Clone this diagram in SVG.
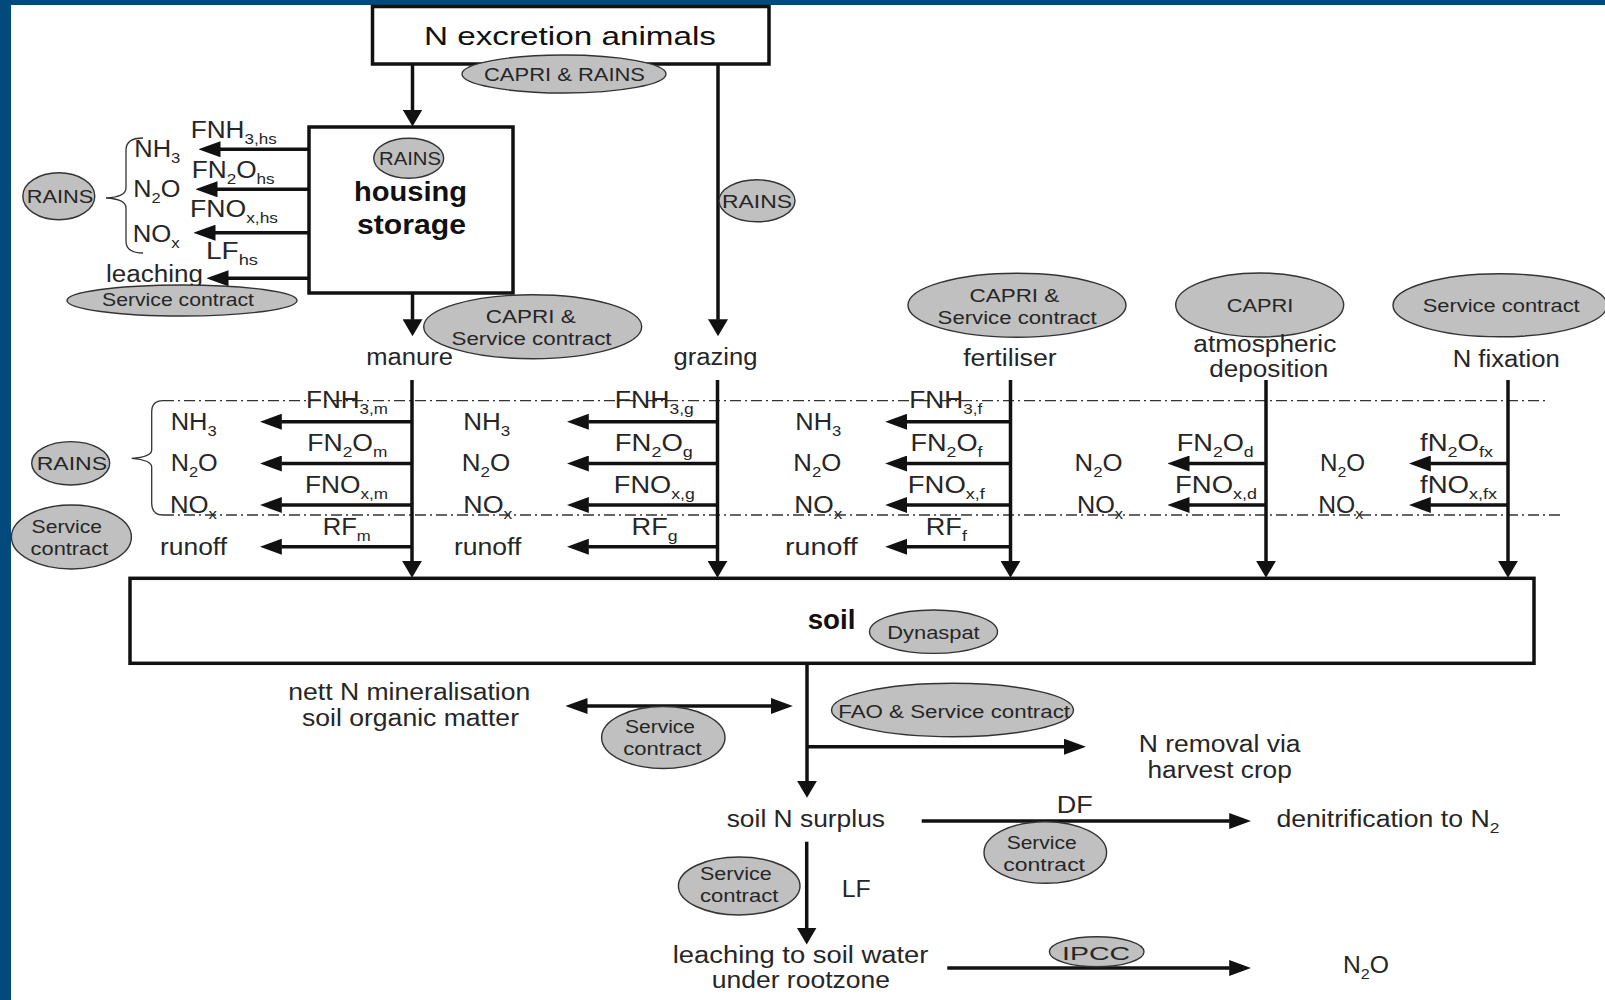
<svg xmlns="http://www.w3.org/2000/svg" width="1605" height="1000" viewBox="0 0 1605 1000">
<style>
text{font-family:"Liberation Sans",Arial,sans-serif;fill:#262626;font-size:23px}
.e{font-size:17.5px}
.big{font-size:26.5px;fill:#111}
.b{font-size:27px;font-weight:bold;fill:#111}
.s{font-size:15px}
.box{fill:#fff;stroke:#111;stroke-width:3.5}
.el{fill:#c0c0c0;stroke:#333;stroke-width:1.4}
.ln{stroke:#111;stroke-width:3.5;fill:none}
.h{marker-end:url(#ah)}
.v{marker-end:url(#av)}
.dd{stroke:#333;stroke-width:1.3;stroke-dasharray:11 4 2 4;fill:none}
.br{stroke:#333;stroke-width:1.3;fill:none}
</style>
<defs>
<marker id="ah" markerUnits="userSpaceOnUse" markerWidth="22" markerHeight="16" refX="0.5" refY="8" orient="auto-start-reverse"><path d="M0,0L22,8L0,16z" fill="#111"/></marker>
<marker id="av" markerUnits="userSpaceOnUse" markerWidth="17" markerHeight="20" refX="0.5" refY="10" orient="auto"><path d="M0,0L17,10L0,20z" fill="#111"/></marker>
</defs>
<rect x="0" y="0" width="1605" height="1000" fill="#fff"/>
<rect x="0" y="0" width="1605" height="5" fill="#034a7c"/>
<rect x="0" y="0" width="11" height="1000" fill="#034a7c"/>

<g id="connectors">
<line class="ln v" x1="412.5" y1="64" x2="412.5" y2="110"/>
<line class="ln v" x1="412.5" y1="293" x2="412.5" y2="319.7"/>
<line class="ln v" x1="718" y1="64" x2="718" y2="319.7"/>
<line class="ln h" x1="309" y1="149.3" x2="220" y2="149.3"/>
<line class="ln h" x1="309" y1="189.3" x2="217" y2="189.3"/>
<line class="ln h" x1="309" y1="232.7" x2="215" y2="232.7"/>
<line class="ln h" x1="309" y1="278.3" x2="228" y2="278.3"/>
<path class="br" d="M143,138 Q126,138 126,150 L126,188 Q126,197 106,198 Q126,199 126,208 L126,241 Q126,253 143,253"/>
<line class="dd" x1="163" y1="400.7" x2="1548" y2="400.7"/>
<line class="dd" x1="163" y1="515" x2="1560" y2="515"/>
<path class="br" d="M163,400.7 Q151.7,400.7 151.7,412 L151.7,450 Q151.7,457 131.7,458.3 Q151.7,460 151.7,467 L151.7,503 Q151.7,515 163,515"/>
<line class="ln v" x1="412" y1="380" x2="412" y2="561.3"/>
<line class="ln v" x1="717.5" y1="380" x2="717.5" y2="561.3"/>
<line class="ln v" x1="1010.5" y1="380" x2="1010.5" y2="561.3"/>
<line class="ln v" x1="1266" y1="380" x2="1266" y2="561.3"/>
<line class="ln v" x1="1508" y1="380" x2="1508" y2="561.3"/>
<line class="ln h" x1="412" y1="421.7" x2="281.3" y2="421.7"/>
<line class="ln h" x1="412" y1="463.5" x2="281.3" y2="463.5"/>
<line class="ln h" x1="412" y1="505" x2="281.3" y2="505"/>
<line class="ln h" x1="412" y1="546.7" x2="281.3" y2="546.7"/>
<line class="ln h" x1="717.5" y1="421.7" x2="588.3" y2="421.7"/>
<line class="ln h" x1="717.5" y1="463.5" x2="588.3" y2="463.5"/>
<line class="ln h" x1="717.5" y1="505" x2="588.3" y2="505"/>
<line class="ln h" x1="717.5" y1="546.7" x2="588.3" y2="546.7"/>
<line class="ln h" x1="1010.5" y1="421.7" x2="906.7" y2="421.7"/>
<line class="ln h" x1="1010.5" y1="463.5" x2="906.7" y2="463.5"/>
<line class="ln h" x1="1010.5" y1="505" x2="906.7" y2="505"/>
<line class="ln h" x1="1010.5" y1="546.7" x2="906.7" y2="546.7"/>
<line class="ln h" x1="1266" y1="463.5" x2="1189" y2="463.5"/>
<line class="ln h" x1="1266" y1="505" x2="1189" y2="505"/>
<line class="ln h" x1="1508" y1="463.5" x2="1430.3" y2="463.5"/>
<line class="ln h" x1="1508" y1="505" x2="1430.3" y2="505"/>
<line class="ln v" x1="807" y1="663" x2="807" y2="781.3"/>
<line class="ln h" x1="587" y1="706" x2="771.3" y2="706" style="marker-start:url(#ah)"/>
<line class="ln h" x1="807" y1="746.7" x2="1064.5" y2="746.7"/>
<line class="ln h" x1="921.7" y1="821" x2="1229.7" y2="821"/>
<line class="ln v" x1="806.7" y1="841.7" x2="806.7" y2="928"/>
<line class="ln h" x1="947.3" y1="968" x2="1229.7" y2="968"/>
</g>

<g id="n-excretion-animals">
<rect class="box" x="372.5" y="6.5" width="396.5" height="57.5"/>
<text class="big" x="424" y="45" textLength="292" lengthAdjust="spacingAndGlyphs">N excretion animals</text>
</g>
<g id="src-capri-rains">
<ellipse class="el" cx="564" cy="74" rx="102" ry="19"/>
<text class="e" x="484" y="81" textLength="161" lengthAdjust="spacingAndGlyphs">CAPRI &amp; RAINS</text>
</g>

<g id="housing-storage">
<rect class="box" x="309" y="127" width="204" height="166"/>
<ellipse class="el" cx="408.7" cy="158.3" rx="35" ry="20"/>
<text class="e" x="379" y="165" textLength="62" lengthAdjust="spacingAndGlyphs">RAINS</text>
<text class="b" x="354" y="200.7" textLength="113" lengthAdjust="spacingAndGlyphs">housing</text>
<text class="b" x="357" y="234" textLength="109" lengthAdjust="spacingAndGlyphs">storage</text>
</g>

<g id="housing-emissions">
<text x="190.7" y="138.3" textLength="86" lengthAdjust="spacingAndGlyphs">FNH<tspan class="s" dy="6">3,hs</tspan></text>
<text x="191.7" y="178.3" textLength="83" lengthAdjust="spacingAndGlyphs">FN<tspan class="s" dy="6">2</tspan><tspan dy="-6">O</tspan><tspan class="s" dy="6">hs</tspan></text>
<text x="190" y="216.7" textLength="88" lengthAdjust="spacingAndGlyphs">FNO<tspan class="s" dy="6">x,hs</tspan></text>
<text x="206" y="259.3" textLength="52" lengthAdjust="spacingAndGlyphs">LF<tspan class="s" dy="6">hs</tspan></text>
<text x="134.3" y="156.7" textLength="46" lengthAdjust="spacingAndGlyphs">NH<tspan class="s" dy="6">3</tspan></text>
<text x="133.3" y="197.3" textLength="47" lengthAdjust="spacingAndGlyphs">N<tspan class="s" dy="6">2</tspan><tspan dy="-6">O</tspan></text>
<text x="132.7" y="241.7" textLength="47" lengthAdjust="spacingAndGlyphs">NO<tspan class="s" dy="6">x</tspan></text>
<text x="106" y="281.7" textLength="97" lengthAdjust="spacingAndGlyphs">leaching</text>
</g>
<g id="src-rains-housing">
<ellipse class="el" cx="58.8" cy="196.3" rx="36" ry="23.5"/>
<text class="e" x="26.7" y="203" textLength="66.7" lengthAdjust="spacingAndGlyphs">RAINS</text>
</g>
<g id="src-service-leaching">
<ellipse class="el" cx="182" cy="300.5" rx="115" ry="15.5"/>
<text class="e" x="102" y="306" textLength="152" lengthAdjust="spacingAndGlyphs">Service contract</text>
</g>
<g id="src-rains-grazing">
<ellipse class="el" cx="757" cy="200.8" rx="38" ry="21"/>
<text class="e" x="722" y="208" textLength="70" lengthAdjust="spacingAndGlyphs">RAINS</text>
</g>
<g id="src-capri-service-manure">
<ellipse class="el" cx="532.7" cy="326.7" rx="109" ry="32"/>
<text class="e" x="485.7" y="323.3" textLength="90" lengthAdjust="spacingAndGlyphs">CAPRI &amp;</text>
<text class="e" x="451.5" y="345" textLength="160" lengthAdjust="spacingAndGlyphs">Service contract</text>
</g>

<g id="manure"><text x="366.3" y="365" textLength="86.7" lengthAdjust="spacingAndGlyphs">manure</text></g>
<g id="grazing"><text x="673.5" y="365" textLength="84" lengthAdjust="spacingAndGlyphs">grazing</text></g>
<g id="src-capri-service-fert">
<ellipse class="el" cx="1017" cy="305.3" rx="109" ry="32"/>
<text class="e" x="969.4" y="301.7" textLength="90" lengthAdjust="spacingAndGlyphs">CAPRI &amp;</text>
<text class="e" x="937.6" y="324" textLength="159" lengthAdjust="spacingAndGlyphs">Service contract</text>
</g>
<g id="fertiliser"><text x="963.2" y="366" textLength="93.5" lengthAdjust="spacingAndGlyphs">fertiliser</text></g>
<g id="src-capri-dep">
<ellipse class="el" cx="1259.7" cy="305" rx="84" ry="32"/>
<text class="e" x="1226.7" y="311.7" textLength="66.7" lengthAdjust="spacingAndGlyphs">CAPRI</text>
</g>
<g id="atmospheric-deposition">
<text x="1193.3" y="351.7" textLength="143" lengthAdjust="spacingAndGlyphs">atmospheric</text>
<text x="1209.3" y="377.3" textLength="119" lengthAdjust="spacingAndGlyphs">deposition</text>
</g>
<g id="src-service-fix">
<ellipse class="el" cx="1500" cy="305.3" rx="107" ry="31.5"/>
<text class="e" x="1422.7" y="311.7" textLength="157" lengthAdjust="spacingAndGlyphs">Service contract</text>
</g>
<g id="n-fixation"><text x="1452.7" y="366.7" textLength="107" lengthAdjust="spacingAndGlyphs">N fixation</text></g>

<g id="manure-emissions">
<text x="306" y="408" textLength="82" lengthAdjust="spacingAndGlyphs">FNH<tspan class="s" dy="6">3,m</tspan></text>
<text x="307.3" y="450.5" textLength="80" lengthAdjust="spacingAndGlyphs">FN<tspan class="s" dy="6">2</tspan><tspan dy="-6">O</tspan><tspan class="s" dy="6">m</tspan></text>
<text x="305" y="492.5" textLength="83" lengthAdjust="spacingAndGlyphs">FNO<tspan class="s" dy="6">x,m</tspan></text>
<text x="322.7" y="534.5" textLength="48" lengthAdjust="spacingAndGlyphs">RF<tspan class="s" dy="6">m</tspan></text>
<text x="170.7" y="430" textLength="46" lengthAdjust="spacingAndGlyphs">NH<tspan class="s" dy="6">3</tspan></text>
<text x="170.7" y="471" textLength="47" lengthAdjust="spacingAndGlyphs">N<tspan class="s" dy="6">2</tspan><tspan dy="-6">O</tspan></text>
<text x="170" y="512.7" textLength="47" lengthAdjust="spacingAndGlyphs">NO<tspan class="s" dy="6">x</tspan></text>
<text x="160" y="555" textLength="67" lengthAdjust="spacingAndGlyphs">runoff</text>
</g>
<g id="grazing-emissions">
<text x="614.8" y="408" textLength="79" lengthAdjust="spacingAndGlyphs">FNH<tspan class="s" dy="6">3,g</tspan></text>
<text x="614.8" y="450.5" textLength="78" lengthAdjust="spacingAndGlyphs">FN<tspan class="s" dy="6">2</tspan><tspan dy="-6">O</tspan><tspan class="s" dy="6">g</tspan></text>
<text x="613.8" y="492.5" textLength="81" lengthAdjust="spacingAndGlyphs">FNO<tspan class="s" dy="6">x,g</tspan></text>
<text x="631.6" y="534.5" textLength="46" lengthAdjust="spacingAndGlyphs">RF<tspan class="s" dy="6">g</tspan></text>
<text x="463.3" y="430" textLength="47" lengthAdjust="spacingAndGlyphs">NH<tspan class="s" dy="6">3</tspan></text>
<text x="461.7" y="471" textLength="48.5" lengthAdjust="spacingAndGlyphs">N<tspan class="s" dy="6">2</tspan><tspan dy="-6">O</tspan></text>
<text x="463.3" y="512.7" textLength="49" lengthAdjust="spacingAndGlyphs">NO<tspan class="s" dy="6">x</tspan></text>
<text x="454" y="555" textLength="67.4" lengthAdjust="spacingAndGlyphs">runoff</text>
</g>
<g id="fertiliser-emissions">
<text x="909.3" y="408" textLength="73" lengthAdjust="spacingAndGlyphs">FNH<tspan class="s" dy="6">3,f</tspan></text>
<text x="910.4" y="450.5" textLength="72" lengthAdjust="spacingAndGlyphs">FN<tspan class="s" dy="6">2</tspan><tspan dy="-6">O</tspan><tspan class="s" dy="6">f</tspan></text>
<text x="907.8" y="492.5" textLength="77" lengthAdjust="spacingAndGlyphs">FNO<tspan class="s" dy="6">x,f</tspan></text>
<text x="925.8" y="534.5" textLength="41" lengthAdjust="spacingAndGlyphs">RF<tspan class="s" dy="6">f</tspan></text>
<text x="795.3" y="430" textLength="46" lengthAdjust="spacingAndGlyphs">NH<tspan class="s" dy="6">3</tspan></text>
<text x="793.3" y="471" textLength="48" lengthAdjust="spacingAndGlyphs">N<tspan class="s" dy="6">2</tspan><tspan dy="-6">O</tspan></text>
<text x="794.3" y="512.7" textLength="48" lengthAdjust="spacingAndGlyphs">NO<tspan class="s" dy="6">x</tspan></text>
<text x="785" y="555" textLength="72.8" lengthAdjust="spacingAndGlyphs">runoff</text>
</g>
<g id="deposition-emissions">
<text x="1176.7" y="450.5" textLength="77" lengthAdjust="spacingAndGlyphs">FN<tspan class="s" dy="6">2</tspan><tspan dy="-6">O</tspan><tspan class="s" dy="6">d</tspan></text>
<text x="1175" y="492.5" textLength="82" lengthAdjust="spacingAndGlyphs">FNO<tspan class="s" dy="6">x,d</tspan></text>
<text x="1074.6" y="471" textLength="48" lengthAdjust="spacingAndGlyphs">N<tspan class="s" dy="6">2</tspan><tspan dy="-6">O</tspan></text>
<text x="1077" y="512.7" textLength="46" lengthAdjust="spacingAndGlyphs">NO<tspan class="s" dy="6">x</tspan></text>
</g>
<g id="fixation-emissions">
<text x="1420" y="450.5" textLength="73" lengthAdjust="spacingAndGlyphs">fN<tspan class="s" dy="6">2</tspan><tspan dy="-6">O</tspan><tspan class="s" dy="6">fx</tspan></text>
<text x="1420" y="492.5" textLength="77" lengthAdjust="spacingAndGlyphs">fNO<tspan class="s" dy="6">x,fx</tspan></text>
<text x="1320" y="471" textLength="45" lengthAdjust="spacingAndGlyphs">N<tspan class="s" dy="6">2</tspan><tspan dy="-6">O</tspan></text>
<text x="1318.3" y="512.7" textLength="45" lengthAdjust="spacingAndGlyphs">NO<tspan class="s" dy="6">x</tspan></text>
</g>
<g id="src-rains-mid">
<ellipse class="el" cx="70.7" cy="463.3" rx="39" ry="21.7"/>
<text class="e" x="36.7" y="470" textLength="70.4" lengthAdjust="spacingAndGlyphs">RAINS</text>
</g>
<g id="src-service-runoff">
<ellipse class="el" cx="71.4" cy="537" rx="60" ry="32"/>
<text class="e" x="31.6" y="533.3" textLength="70.4" lengthAdjust="spacingAndGlyphs">Service</text>
<text class="e" x="30.6" y="555" textLength="77.6" lengthAdjust="spacingAndGlyphs">contract</text>
</g>

<g id="soil">
<rect class="box" x="130" y="578.3" width="1404" height="85"/>
<text class="b" x="807.7" y="629.3" textLength="47.7" lengthAdjust="spacingAndGlyphs">soil</text>
<ellipse class="el" cx="933.5" cy="631.7" rx="64" ry="21.7"/>
<text class="e" x="887.3" y="639" textLength="92.4" lengthAdjust="spacingAndGlyphs">Dynaspat</text>
</g>

<g id="mineralisation">
<text x="288.3" y="700" textLength="242" lengthAdjust="spacingAndGlyphs">nett N mineralisation</text>
<text x="302" y="726" textLength="217" lengthAdjust="spacingAndGlyphs">soil organic matter</text>
</g>
<g id="src-service-mineral">
<ellipse class="el" cx="663.3" cy="737.5" rx="61.7" ry="31"/>
<text class="e" x="625" y="733.3" textLength="70" lengthAdjust="spacingAndGlyphs">Service</text>
<text class="e" x="623.3" y="755" textLength="78.4" lengthAdjust="spacingAndGlyphs">contract</text>
</g>
<g id="src-fao-service">
<ellipse class="el" cx="952.5" cy="710" rx="121" ry="26.7"/>
<text class="e" x="838.3" y="718" textLength="231.7" lengthAdjust="spacingAndGlyphs">FAO &amp; Service contract</text>
</g>
<g id="n-removal">
<text x="1138.8" y="751.7" textLength="161.7" lengthAdjust="spacingAndGlyphs">N removal via</text>
<text x="1147.5" y="778.3" textLength="144.3" lengthAdjust="spacingAndGlyphs">harvest crop</text>
</g>
<g id="soil-n-surplus"><text x="726.7" y="826.5" textLength="158.3" lengthAdjust="spacingAndGlyphs">soil N surplus</text></g>
<g id="df-label"><text x="1056.7" y="812.7" textLength="36" lengthAdjust="spacingAndGlyphs">DF</text></g>
<g id="src-service-df">
<ellipse class="el" cx="1045.3" cy="852.5" rx="61.3" ry="30.8"/>
<text class="e" x="1006.7" y="849.3" textLength="70" lengthAdjust="spacingAndGlyphs">Service</text>
<text class="e" x="1003.3" y="870.7" textLength="81.7" lengthAdjust="spacingAndGlyphs">contract</text>
</g>
<g id="denitrification"><text x="1276.4" y="826.7" textLength="223" lengthAdjust="spacingAndGlyphs">denitrification to N<tspan class="s" dy="6">2</tspan></text></g>
<g id="src-service-lf">
<ellipse class="el" cx="739.2" cy="886" rx="60.8" ry="29"/>
<text class="e" x="700" y="880" textLength="71.7" lengthAdjust="spacingAndGlyphs">Service</text>
<text class="e" x="700" y="901.7" textLength="78.3" lengthAdjust="spacingAndGlyphs">contract</text>
</g>
<g id="lf-label"><text x="841.7" y="896.7" textLength="29" lengthAdjust="spacingAndGlyphs">LF</text></g>
<g id="leaching-soil-water">
<text x="672.7" y="963.3" textLength="255.7" lengthAdjust="spacingAndGlyphs">leaching to soil water</text>
<text x="711.7" y="988.3" textLength="178.3" lengthAdjust="spacingAndGlyphs">under rootzone</text>
</g>
<g id="src-ipcc">
<ellipse class="el" cx="1096.7" cy="951.7" rx="47.3" ry="15"/>
<text class="e" x="1062" y="959.5" textLength="68" lengthAdjust="spacingAndGlyphs">IPCC</text>
</g>
<g id="n2o-final"><text x="1343" y="973.3" textLength="46" lengthAdjust="spacingAndGlyphs">N<tspan class="s" dy="6">2</tspan><tspan dy="-6">O</tspan></text></g>
</svg>
